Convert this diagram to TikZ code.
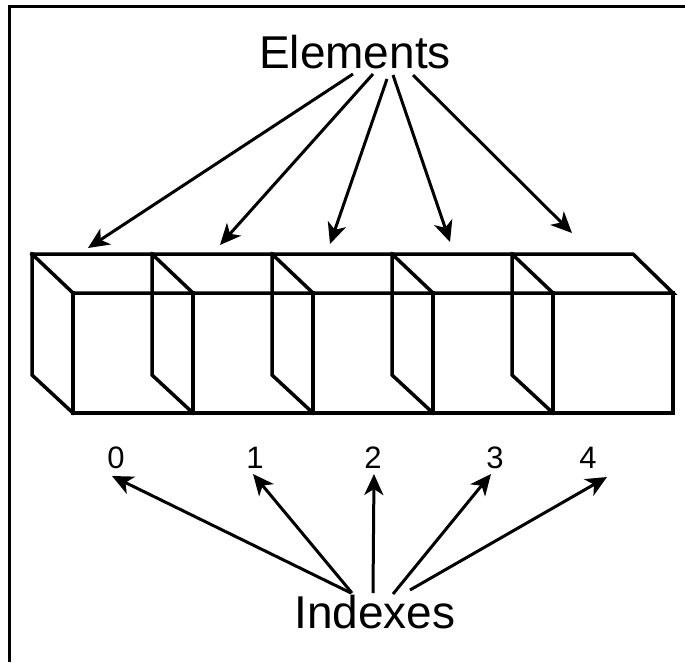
\documentclass[tikz,border=0pt]{standalone}
\usepackage{fontspec}
\setmainfont{Liberation Sans}
\usetikzlibrary{arrows.meta}
\begin{document}
\begin{tikzpicture}[x=1pt,y=-1pt,
  edge/.style={line width=3.5pt, line join=miter, line cap=rect},
  frame/.style={line width=3.5pt},
  arr/.style={line width=3pt, -{Stealth[length=21pt,width=19pt,inset=6pt]}},
  big/.style={font=\fontsize{46}{55}\selectfont, inner sep=0pt, anchor=base},
  idx/.style={font=\fontsize{31}{37}\selectfont, inner sep=0pt, anchor=base}]
\useasboundingbox (0,0) rectangle (685,662);
% frame (only top and left edges visible)
\draw[frame] (9.5,662) -- (9.5,6.5) -- (685,6.5);

% cubes
\draw[edge] (32,254) -- (633,254) -- (673,293) -- (73,293);
\draw[edge] (73,413) -- (673,413);
\foreach \i in {0,...,4} {
  \pgfmathsetmacro{\bx}{32+120*\i}
  \draw[edge] (\bx,254) -- (\bx+41,293);
  \draw[edge] (\bx,254) -- (\bx,375) -- (\bx+41,413);
}
\foreach \i in {0,...,5} {
  \pgfmathsetmacro{\fx}{73+120*\i}
  \draw[edge] (\fx,293) -- (\fx,413);
}

% labels
\node[big] (elements) at (355,68) {Elements};
\node[big] (indexes) at (375,628) {Indexes};
\node[idx] (d0) at (116,468) {0};
\node[idx] (d1) at (255,468) {1};
\node[idx] (d2) at (373,468) {2};
\node[idx] (d3) at (495,468) {3};
\node[idx] (d4) at (588,468) {4};

% arrow end points
\coordinate (es0) at (353,74);  \coordinate (et0) at (88,248);
\coordinate (es1) at (373,74);  \coordinate (et1) at (220,245);
\coordinate (es2) at (387,79);  \coordinate (et2) at (330,244);
\coordinate (es3) at (393,75);  \coordinate (et3) at (450,242);
\coordinate (es4) at (413,75);  \coordinate (et4) at (572,233);

\coordinate (is0) at (351,593); \coordinate (it0) at (112,476);
\coordinate (is1) at (352,593); \coordinate (it1) at (253,474);
\coordinate (is2) at (373,593); \coordinate (it2) at (374,474);
\coordinate (is3) at (393,594); \coordinate (it3) at (491,474);
\coordinate (is4) at (410,590); \coordinate (it4) at (607,477);

\foreach \k in {0,...,4} {
  \draw[arr] (es\k) -- (et\k);
  \draw[arr] (is\k) -- (it\k);
}
\end{tikzpicture}
\end{document}
